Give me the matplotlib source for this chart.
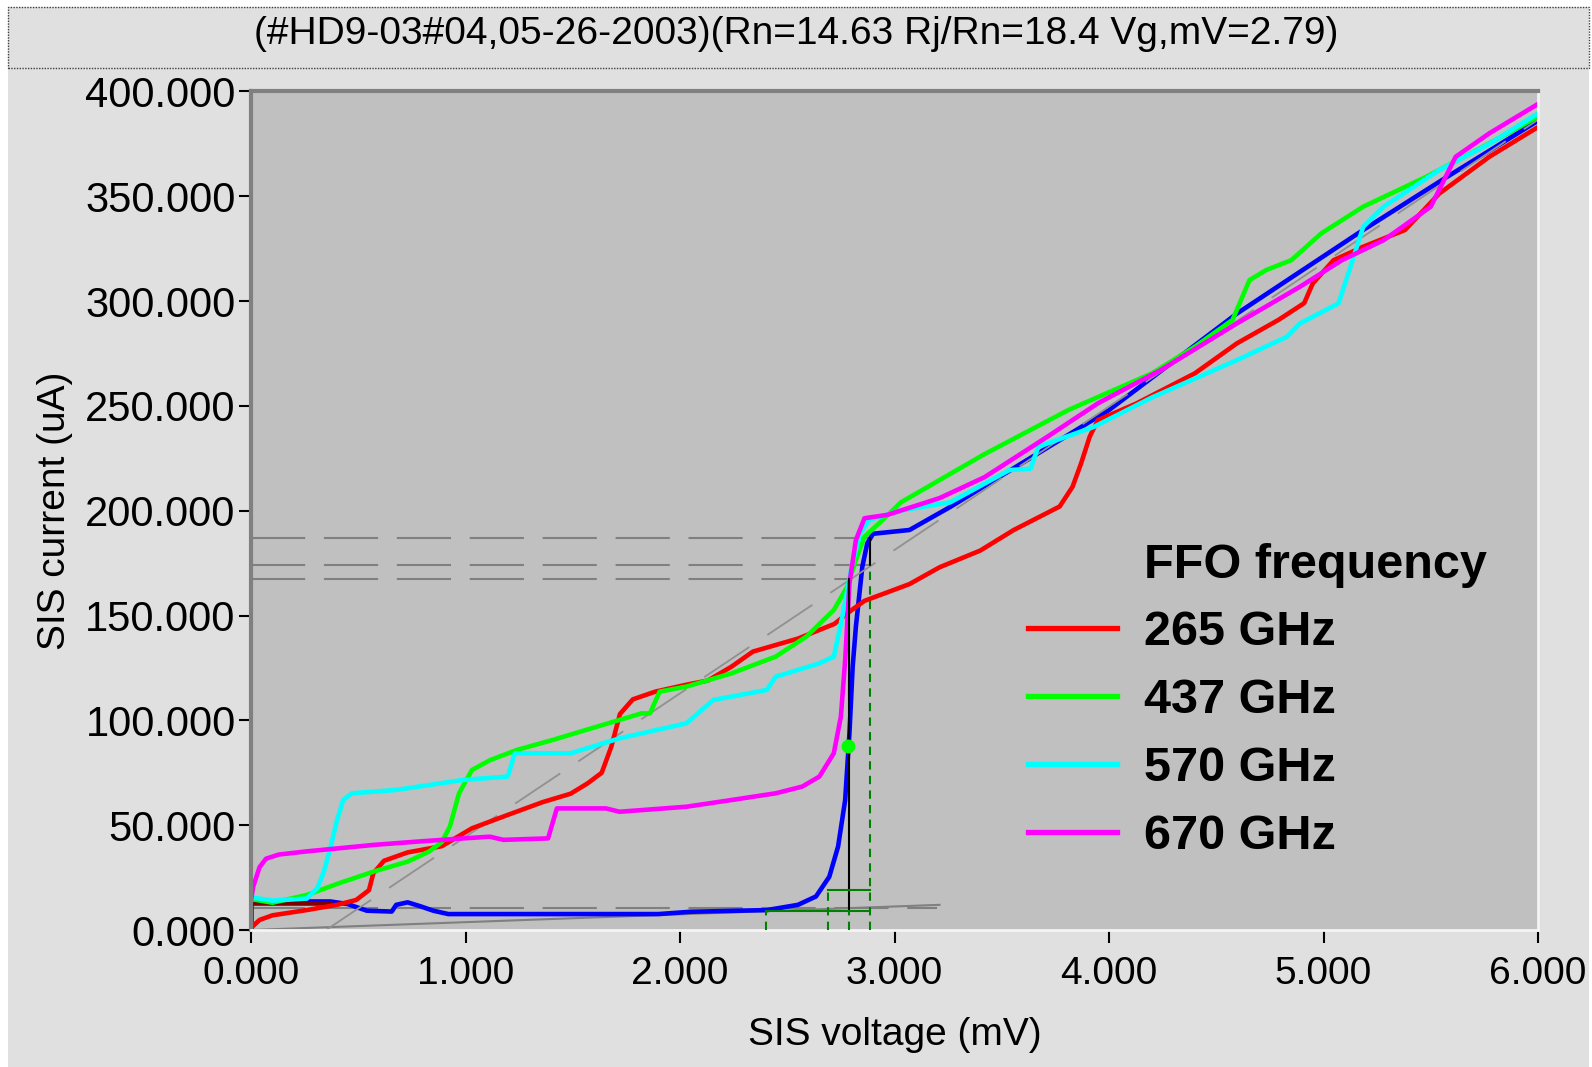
import matplotlib
matplotlib.use("Agg")
import matplotlib.pyplot as plt
from matplotlib.lines import Line2D
from matplotlib.patches import Rectangle
from matplotlib.ticker import FormatStrFormatter

plt.rcParams['font.family'] = ['Liberation Sans', 'DejaVu Sans']

title = "(#HD9-03#04,05-26-2003)(Rn=14.63 Rj/Rn=18.4 Vg,mV=2.79)"
legend_title = "FFO frequency"
freq_labels = ["265 GHz", "437 GHz", "570 GHz", "670 GHz"]
freq_colors = ["#ff0000", "#00ff00", "#00ffff", "#ff00ff"]

# pumped I-V curves, SIS voltage (mV) vs SIS current (uA)
red_v = [0.0, 0.04, 0.10, 0.26, 0.40, 0.49, 0.55, 0.57, 0.62, 0.73, 0.89, 1.03, 1.20, 1.36,
         1.49, 1.57, 1.635, 1.68, 1.72, 1.78, 1.885, 2.03, 2.13, 2.24, 2.34, 2.55, 2.72, 2.80,
         2.86, 3.07, 3.21, 3.40, 3.556, 3.77, 3.83, 3.87, 3.91, 3.948, 4.125, 4.40, 4.596, 4.79,
         4.91, 4.95, 5.047, 5.185, 5.38, 5.54, 5.773, 6.0]
red_i = [1, 4.8, 7, 9.5, 12, 14.3, 19, 27, 33, 37, 40, 48.5, 55, 61,
         65, 70, 75, 87.5, 103, 110, 113.7, 117, 119, 125.6, 132.8, 139, 146, 152.6,
         157, 165, 173, 181, 190.8, 202, 211.4, 222.6, 235.3, 243.2, 251, 265.5, 279.8, 291,
         299, 308.4, 319.5, 325.9, 333.9, 351.3, 368.8, 383]

green_v = [0.0, 0.01, 0.10, 0.26, 0.41, 0.57, 0.73, 0.83, 0.89, 0.927, 0.97, 1.03, 1.114, 1.24,
           1.405, 1.613, 1.82, 1.86, 1.905, 2.03, 2.24, 2.446, 2.59, 2.717, 2.78, 2.82, 2.86,
           2.945, 3.03, 3.42, 3.81, 4.2, 4.40, 4.576, 4.655, 4.733, 4.85, 4.99, 5.185, 5.48,
           5.773, 6.0]
green_i = [14, 14.6, 13, 16.7, 22.3, 27.8, 32.6, 37.4, 42, 49.3, 65.2, 76.3, 81, 85.9,
           90.6, 97, 103.3, 103.3, 113.7, 116.1, 122.4, 130.4, 140, 152.6, 163.8, 176.5, 187.6,
           195.6, 204, 227, 248, 265.5, 278.2, 291, 310, 314.8, 319.5, 332.3, 345, 359.3,
           375.2, 388]

cyan_v = [0.0, 0.02, 0.10, 0.26, 0.31, 0.34, 0.37, 0.40, 0.43, 0.47, 0.677, 0.99, 1.197, 1.23,
          1.49, 1.718, 2.03, 2.155, 2.405, 2.446, 2.65, 2.717, 2.757, 2.80, 2.84, 2.883, 3.026,
          3.26, 3.536, 3.634, 3.67, 3.93, 4.2, 4.596, 4.83, 4.89, 5.07, 5.126, 5.185, 5.28,
          5.54, 5.773, 6.0]
cyan_i = [15, 15.3, 14, 15, 20, 28, 39, 52, 62, 65.2, 66.8, 71.6, 73.2, 84.3,
          84.3, 91.4, 98.6, 109.7, 114.5, 120.8, 127.2, 130.4, 149.5, 173.3, 189.2, 195.6, 200,
          204, 219.4, 220, 230.5, 240, 254, 271.8, 283, 289.3, 298.9, 316.4, 335.4, 345,
          362.5, 375, 389.5]

mag_v = [0.0, 0.01, 0.04, 0.07, 0.13, 0.26, 0.573, 0.78, 0.99, 1.114, 1.177, 1.385, 1.426,
         1.655, 1.718, 2.03, 2.24, 2.446, 2.57, 2.65, 2.717, 2.75, 2.77, 2.79, 2.82, 2.86,
         2.966, 3.21, 3.42, 3.713, 3.948, 4.24, 4.596, 4.89, 5.086, 5.28, 5.5, 5.616, 5.773, 6.0]
mag_i = [14, 20.6, 30, 34, 36, 37.5, 40.6, 42.2, 43.7, 44.5, 43, 43.7, 58,
         58, 56.4, 58.8, 62, 65.2, 68.4, 73.2, 84.3, 101.8, 128.8, 165.4, 186, 196.4,
         198, 206, 216, 235.3, 251.2, 267, 289.3, 306.8, 319.5, 329, 345, 368.8, 380, 394]

# unpumped curve
blue_v = [0.0, 0.37, 0.45, 0.54, 0.656, 0.677, 0.73, 0.79, 0.85, 0.92, 1.405, 1.9, 2.05, 2.405,
          2.55, 2.634, 2.696, 2.737, 2.77, 2.79, 2.805, 2.82, 2.85, 2.873, 2.9, 3.07, 3.26,
          3.516, 4.0, 4.596, 5.185, 5.577, 6.0]
blue_i = [13.6, 13.6, 12.4, 9.2, 8.8, 12, 13.2, 11.3, 9.2, 7.6, 7.6, 7.6, 8.7, 9.5,
          12, 16, 25.4, 39.8, 62, 94, 125.6, 144.7, 173.3, 184.4, 189, 190.8, 201.8,
          217.8, 248, 294, 333.9, 359.3, 386]

# helper lines
rn_v = [0.35, 6.0]
rn_i = [0, 386.5]
leak_v = [0.0, 3.21]
leak_i = [0, 12]
dark_v = [0.0, 0.0, 0.37]
dark_i = [0, 13, 13]
hline_i = [187, 174, 167.5, 10.3]
hline_vmax = [2.885, 2.885, 2.79, 3.2]
vg = 2.79
vg_i = [9.5, 167.5]
vgap_v = 2.885
vgap_i = [174, 187]
gdash_v = [2.885, 2.79, 2.69, 2.40]
gdash_top = [174, 9.5, 19, 9.3]
ghline_i = [19, 9.3]
ghline_vmin = [2.69, 2.40]
dot_v = [2.785]
dot_i = [88]

W, H = 1592, 1067
fig = plt.figure(figsize=(W / 100, H / 100), dpi=100, facecolor='white')
fig.patches.append(Rectangle((8 / W, 0), (1589 - 8) / W, (H - 7) / H, transform=fig.transFigure,
                             facecolor='#e0e0e0', edgecolor='none', zorder=-10))
fig.patches.append(Rectangle((8 / W, 1 - 68 / H), (1589 - 8) / W, 61 / H, transform=fig.transFigure,
                             facecolor='none', edgecolor='#404040', linestyle=(0, (1, 1)), lw=1))
fig.text(796 / W, 1 - 34 / H, title, ha='center', va='center', fontsize=28)

ax = fig.add_axes([251 / W, 1 - 930 / H, (1538 - 251) / W, (930 - 91.4) / H])
ax.set_facecolor('#c0c0c0')
for s in ['top', 'left']:
    ax.spines[s].set_color('#808080')
    ax.spines[s].set_linewidth(3)
for s in ['bottom', 'right']:
    ax.spines[s].set_color('#f4f4f4')
    ax.spines[s].set_linewidth(2)

# gray reference lines
for yi, vm in zip(hline_i, hline_vmax):
    ax.plot([0, vm], [yi, yi], color='#808080', lw=1.5, dashes=(26, 9), zorder=1)
ax.plot(leak_v, leak_i, color='#808080', lw=1.5, zorder=1)

ax.plot(blue_v, blue_i, color='#0000ff', lw=3.3, zorder=2)
ax.plot(rn_v, rn_i, color='#909090', lw=1.3, dashes=(30, 12), zorder=2.1)
ax.plot(dark_v, dark_i, color='#800000', lw=3.3, zorder=2.1)
curves = [(red_v, red_i), (green_v, green_i), (cyan_v, cyan_i), (mag_v, mag_i)]
handles = [Line2D([], [], color='none')]
for (v, i), c in zip(curves, freq_colors):
    ax.plot(v, i, color=c, lw=3.3, zorder=2.2)
    handles.append(Line2D([], [], color=c, lw=3.8))

# gap voltage markers
ax.plot([vg, vg], vg_i, color='black', lw=1.5, zorder=3)
ax.plot([vgap_v, vgap_v], vgap_i, color='black', lw=1.5, zorder=3)
for xv, top in zip(gdash_v, gdash_top):
    ax.plot([xv, xv], [0, top], color='#008000', lw=1.5, dashes=(4, 3), zorder=3)
for yi, vmin in zip(ghline_i, ghline_vmin):
    ax.plot([vmin, vgap_v], [yi, yi], color='#008000', lw=1.5, zorder=3)
ax.plot(dot_v, dot_i, 'o', color='#00ff00', ms=9, zorder=3)

ax.set_xlim(0, 6)
ax.set_ylim(0, 400)
ax.set_xticks(range(0, 7))
ax.set_yticks(range(0, 401, 50))
ax.xaxis.set_major_formatter(FormatStrFormatter('%.3f'))
ax.yaxis.set_major_formatter(FormatStrFormatter('%.3f'))
ax.tick_params(axis='both', direction='out', length=9, width=1.5)
ax.tick_params(axis='x', pad=10, labelsize=28)
ax.tick_params(axis='y', pad=2, labelsize=30)
ax.set_xlabel("SIS voltage (mV)", fontsize=28, labelpad=18)
ax.set_ylabel("SIS current (uA)", fontsize=28, labelpad=9)

ax.legend(handles, [legend_title] + freq_labels, loc='upper left', bbox_to_anchor=(0.6037, 0.462),
          frameon=False, prop={'weight': 'bold', 'size': 35}, handlelength=1.83,
          handletextpad=0.55, labelspacing=0.47, borderpad=0, borderaxespad=0)

fig.savefig("out.png", dpi=100, facecolor=fig.get_facecolor())
